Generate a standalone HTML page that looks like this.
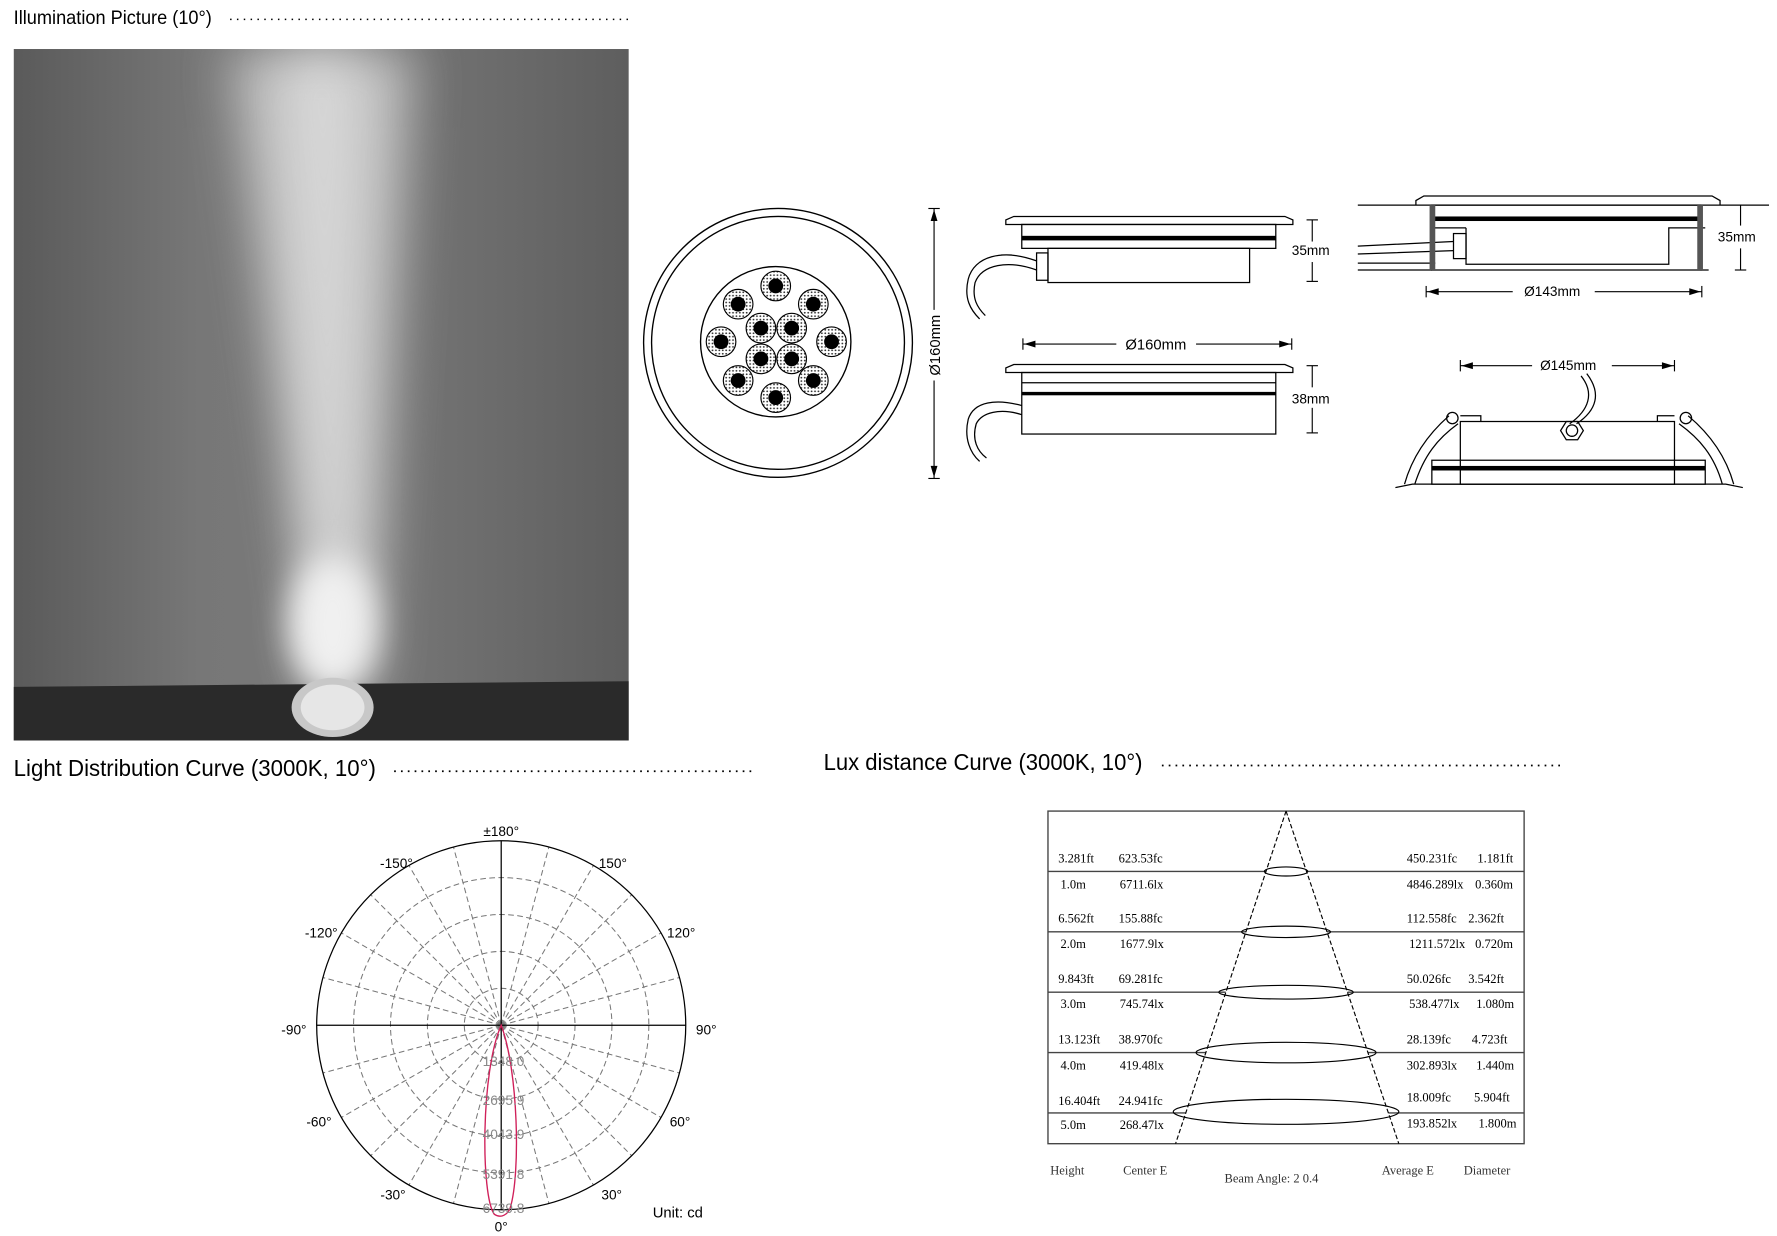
<!DOCTYPE html>
<html><head><meta charset="utf-8"><style>html,body{margin:0;padding:0;background:#fff}svg{display:block}</style></head>
<body>
<svg width="1777" height="1236" viewBox="0 0 1560 1085" xmlns="http://www.w3.org/2000/svg" font-family="Liberation Sans, sans-serif">
<defs>
<linearGradient id="bg" x1="0" y1="0" x2="1" y2="0">
<stop offset="0" stop-color="#5a5a5a"/><stop offset="0.3" stop-color="#777"/><stop offset="0.55" stop-color="#7a7a7a"/><stop offset="1" stop-color="#5e5e5e"/></linearGradient>
<filter id="bl" x="-1" y="-0.2" width="3" height="1.4"><feGaussianBlur stdDeviation="22"/></filter>
<filter id="bl2" x="-1" y="-1" width="3" height="3"><feGaussianBlur stdDeviation="14"/></filter>
<pattern id="dots" width="3" height="3" patternUnits="userSpaceOnUse"><circle cx="1.5" cy="1.5" r="0.8" fill="#333"/></pattern>
</defs>
<!-- titles -->
<text x="12" y="21" font-size="17" textLength="174" lengthAdjust="spacingAndGlyphs">Illumination Picture (10°)</text>
<line x1="202" y1="17" x2="552" y2="17" stroke="#000" stroke-width="1.3" stroke-dasharray="1.3 4.7"/>
<text x="12" y="681" font-size="20" textLength="318" lengthAdjust="spacingAndGlyphs">Light Distribution Curve (3000K, 10°)</text>
<line x1="346" y1="677" x2="663" y2="677" stroke="#000" stroke-width="1.5" stroke-dasharray="1.5 4.5"/>
<text x="723" y="676" font-size="20" textLength="280" lengthAdjust="spacingAndGlyphs">Lux distance Curve (3000K, 10°)</text>
<line x1="1020" y1="672" x2="1372" y2="672" stroke="#000" stroke-width="1.5" stroke-dasharray="1.5 4.5"/>
<!-- photo -->
<svg x="12" y="43" width="540" height="607">
<rect width="540" height="607" fill="url(#bg)"/>
<polygon points="190,0 350,0 315,560 265,560" fill="#cfcfcf" filter="url(#bl)" opacity="0.85"/>
<polygon points="240,0 300,0 292,540 268,540" fill="#e8e8e8" filter="url(#bl)" opacity="0.6"/>
<ellipse cx="280" cy="505" rx="38" ry="60" fill="#f0f0f0" filter="url(#bl2)"/>
<polygon points="0,560 540,555 540,607 0,607" fill="#2a2a2a"/>
<ellipse cx="280" cy="578" rx="36" ry="26" fill="#c8c8c8"/>
<ellipse cx="280" cy="578" rx="28" ry="20" fill="#e6e6e6"/>
</svg>
<!-- top view -->
<g fill="none" stroke="#000" stroke-width="1.2">
<circle cx="683" cy="301" r="118"/><circle cx="683" cy="301" r="111"/>
<circle cx="681" cy="300" r="66"/>
</g>
<g stroke="#000" stroke-width="1">
<g fill="url(#dots)"><circle cx="681" cy="251" r="13"/><circle cx="648" cy="267" r="13"/><circle cx="714" cy="267" r="13"/><circle cx="668" cy="288" r="13"/><circle cx="695" cy="288" r="13"/><circle cx="633" cy="300" r="13"/><circle cx="730" cy="300" r="13"/><circle cx="668" cy="315" r="13"/><circle cx="695" cy="315" r="13"/><circle cx="648" cy="334" r="13"/><circle cx="714" cy="334" r="13"/><circle cx="681" cy="349" r="13"/></g>
<g fill="#000"><circle cx="681" cy="251" r="6"/><circle cx="648" cy="267" r="6"/><circle cx="714" cy="267" r="6"/><circle cx="668" cy="288" r="6"/><circle cx="695" cy="288" r="6"/><circle cx="633" cy="300" r="6"/><circle cx="730" cy="300" r="6"/><circle cx="668" cy="315" r="6"/><circle cx="695" cy="315" r="6"/><circle cx="648" cy="334" r="6"/><circle cx="714" cy="334" r="6"/><circle cx="681" cy="349" r="6"/></g>
</g>
<!-- 160 vertical dim -->
<g stroke="#000" stroke-width="1" fill="none">
<line x1="820" y1="183" x2="820" y2="272"/><line x1="820" y1="334" x2="820" y2="420"/>
<line x1="815" y1="183" x2="825" y2="183"/><line x1="815" y1="420" x2="825" y2="420"/>
</g>
<polygon points="820,184 817,194 823,194" fill="#000"/><polygon points="820,419 817,409 823,409" fill="#000"/>
<text transform="translate(825,303) rotate(-90)" font-size="13" text-anchor="middle">Ø160mm</text>
<!-- side view 1 -->
<g fill="none" stroke="#000" stroke-width="1.1">
<path d="M883,197 L883,193 L890,190 L1128,190 L1135,193 L1135,197 Z"/>
<rect x="897" y="197" width="223" height="21"/>
<rect x="920" y="218" width="177" height="30"/>
<rect x="910" y="222" width="10" height="24"/>
<path d="M910,229 C880,218 855,225 850,245 C846,262 852,272 860,280"/>
<path d="M910,237 C885,228 862,232 856,248 C853,262 858,270 865,277"/>
</g>
<rect x="897" y="207" width="223" height="4" fill="#000"/>
<g stroke="#000" stroke-width="1"><line x1="1152" y1="193" x2="1152" y2="212"/><line x1="1152" y1="230" x2="1152" y2="247"/><line x1="1147" y1="193" x2="1157" y2="193"/><line x1="1147" y1="247" x2="1157" y2="247"/></g>
<text x="1134" y="224" font-size="12">35mm</text>
<!-- 160 horiz -->
<g stroke="#000" stroke-width="1"><line x1="898" y1="302" x2="980" y2="302"/><line x1="1050" y1="302" x2="1134" y2="302"/><line x1="898" y1="297" x2="898" y2="307"/><line x1="1134" y1="297" x2="1134" y2="307"/></g>
<polygon points="899,302 909,299 909,305" fill="#000"/><polygon points="1133,302 1123,299 1123,305" fill="#000"/>
<text x="988" y="307" font-size="13">Ø160mm</text>
<!-- side view 2 -->
<g fill="none" stroke="#000" stroke-width="1.1">
<path d="M883,327 L883,323 L890,320 L1128,320 L1135,323 L1135,327 Z"/>
<rect x="897" y="327" width="223" height="54"/>
<line x1="897" y1="336" x2="1120" y2="336"/>
<path d="M897,356 C875,350 855,352 850,368 C846,385 852,398 860,405"/>
<path d="M897,364 C878,358 862,362 857,372 C853,386 858,396 866,402"/>
</g>
<rect x="897" y="344" width="223" height="3" fill="#000"/>
<g stroke="#000" stroke-width="1"><line x1="1152" y1="321" x2="1152" y2="340"/><line x1="1152" y1="358" x2="1152" y2="380"/><line x1="1147" y1="321" x2="1157" y2="321"/><line x1="1147" y1="380" x2="1157" y2="380"/></g>
<text x="1134" y="354" font-size="12">38mm</text>
<!-- right top installed -->
<g fill="none" stroke="#000" stroke-width="1.1">
<line x1="1192" y1="180" x2="1553" y2="180"/><line x1="1192" y1="237" x2="1257" y2="237"/><line x1="1493" y1="237" x2="1500" y2="237"/>
<line x1="1192" y1="231" x2="1260" y2="231"/>
<path d="M1243,180 L1243,176 L1250,172 L1503,172 L1510,176 L1510,180"/>
<rect x="1257" y="180" width="236" height="57"/>
<path d="M1287,222 L1287,232 L1465,232 L1465,200 L1497,200"/>
<line x1="1257" y1="200" x2="1287" y2="200"/><line x1="1287" y1="200" x2="1287" y2="222"/>
<rect x="1276" y="205" width="11" height="22"/>
<path d="M1192,216 L1276,212 M1192,223 L1276,220"/>
</g>
<rect x="1257" y="190" width="236" height="4" fill="#000"/>
<rect x="1255" y="180" width="5" height="57" fill="#555"/><rect x="1490" y="180" width="5" height="57" fill="#555"/>
<g stroke="#000" stroke-width="1"><line x1="1528" y1="180" x2="1528" y2="198"/><line x1="1528" y1="218" x2="1528" y2="237"/><line x1="1523" y1="237" x2="1533" y2="237"/></g>
<text x="1508" y="212" font-size="12">35mm</text>
<g stroke="#000" stroke-width="1"><line x1="1252" y1="256" x2="1328" y2="256"/><line x1="1400" y1="256" x2="1494" y2="256"/><line x1="1252" y1="251" x2="1252" y2="261"/><line x1="1494" y1="251" x2="1494" y2="261"/></g>
<polygon points="1253,256 1263,253 1263,259" fill="#000"/><polygon points="1493,256 1483,253 1483,259" fill="#000"/>
<text x="1338" y="260" font-size="12">Ø143mm</text>
<!-- bottom right clips -->
<g stroke="#000" stroke-width="1"><line x1="1282" y1="321" x2="1345" y2="321"/><line x1="1415" y1="321" x2="1470" y2="321"/><line x1="1282" y1="316" x2="1282" y2="326"/><line x1="1470" y1="316" x2="1470" y2="326"/></g>
<polygon points="1283,321 1293,318 1293,324" fill="#000"/><polygon points="1469,321 1459,318 1459,324" fill="#000"/>
<text x="1352" y="325" font-size="12">Ø145mm</text>
<g fill="none" stroke="#000" stroke-width="1.1">
<rect x="1282" y="370" width="188" height="55"/>
<rect x="1257" y="404" width="240" height="21"/>
<path d="M1225,428 L1240,425 L1515,425 L1530,428"/>
<path d="M1233,425 C1240,400 1255,380 1272,365 M1242,425 C1250,400 1262,385 1280,372"/>
<path d="M1522,425 C1515,400 1500,380 1482,365 M1512,425 C1505,400 1492,385 1474,372"/>
<circle cx="1275" cy="367" r="5"/><circle cx="1480" cy="367" r="5"/>
<path d="M1282,365 L1300,365 L1300,370 M1455,370 L1455,365 L1470,365"/>
<polygon points="1370,378 1375,370 1385,370 1390,378 1385,386 1375,386"/>
<circle cx="1380" cy="378" r="5"/>
<path d="M1378,372 C1395,360 1400,345 1388,330 M1384,372 C1402,360 1406,345 1393,328"/>
</g>
<rect x="1257" y="409" width="240" height="4" fill="#000"/>
<!-- polar -->
<g transform="translate(440,900)" fill="none">
<g stroke="#777" stroke-width="0.9" stroke-dasharray="5 3">
<circle r="32.4"/><circle r="64.8"/><circle r="97.2"/><circle r="129.6"/>
<line x1="0" y1="0" x2="41.9" y2="156.5"/><line x1="0" y1="0" x2="81" y2="140.3"/><line x1="0" y1="0" x2="114.6" y2="114.6"/><line x1="0" y1="0" x2="140.3" y2="81"/><line x1="0" y1="0" x2="156.5" y2="41.9"/>
<line x1="0" y1="0" x2="-41.9" y2="156.5"/><line x1="0" y1="0" x2="-81" y2="140.3"/><line x1="0" y1="0" x2="-114.6" y2="114.6"/><line x1="0" y1="0" x2="-140.3" y2="81"/><line x1="0" y1="0" x2="-156.5" y2="41.9"/>
<line x1="0" y1="0" x2="41.9" y2="-156.5"/><line x1="0" y1="0" x2="81" y2="-140.3"/><line x1="0" y1="0" x2="114.6" y2="-114.6"/><line x1="0" y1="0" x2="140.3" y2="-81"/><line x1="0" y1="0" x2="156.5" y2="-41.9"/>
<line x1="0" y1="0" x2="-41.9" y2="-156.5"/><line x1="0" y1="0" x2="-81" y2="-140.3"/><line x1="0" y1="0" x2="-114.6" y2="-114.6"/><line x1="0" y1="0" x2="-140.3" y2="-81"/><line x1="0" y1="0" x2="-156.5" y2="-41.9"/>
</g>
<circle r="162" stroke="#000" stroke-width="1.1"/>
<line x1="-162" y1="0" x2="162" y2="0" stroke="#000" stroke-width="1.1"/>
<line x1="0" y1="-162" x2="0" y2="162" stroke="#000" stroke-width="1.1"/>
<path d="M0,0 C-18,40 -18,150 -6,166 C0,170 6,166 8,160 C17,130 15,40 0,0 Z" stroke="#d0205a" stroke-width="1.2"/>
<g fill="#888" font-size="12" text-anchor="middle">
<text x="2" y="36">1348.0</text><text x="2" y="70">2695.9</text><text x="2" y="100">4043.9</text><text x="2" y="135">5391.8</text><text x="2" y="165">6739.8</text>
</g>
<g fill="#000" font-size="12" text-anchor="middle">
<text x="0" y="-166">±180°</text><text x="-92" y="-138">-150°</text><text x="98" y="-138">150°</text>
<text x="-158" y="-77">-120°</text><text x="158" y="-77">120°</text>
<text x="-182" y="8">-90°</text><text x="180" y="8">90°</text>
<text x="-160" y="89">-60°</text><text x="157" y="89">60°</text>
<text x="-95" y="153">-30°</text><text x="97" y="153">30°</text>
<text x="0" y="181">0°</text>
</g>
<text x="133" y="169" font-size="13" fill="#000">Unit: cd</text>
</g>
<!-- lux table -->
<g fill="none" stroke="#444" stroke-width="1.2">
<rect x="920" y="712" width="418" height="292"/>
<line x1="920" y1="765" x2="1111" y2="765"/><line x1="1147" y1="765" x2="1338" y2="765"/>
<line x1="920" y1="818" x2="1094" y2="818"/><line x1="1165" y1="818" x2="1338" y2="818"/>
<line x1="920" y1="871" x2="1076" y2="871"/><line x1="1183" y1="871" x2="1338" y2="871"/>
<line x1="920" y1="924" x2="1059" y2="924"/><line x1="1201" y1="924" x2="1338" y2="924"/>
<line x1="920" y1="977" x2="1041" y2="977"/><line x1="1219" y1="977" x2="1338" y2="977"/>
</g>
<g fill="none" stroke="#000" stroke-width="1">
<line x1="1129" y1="712" x2="1032" y2="1004" stroke-dasharray="4 2"/><line x1="1129" y1="712" x2="1228" y2="1004" stroke-dasharray="4 2"/>
<ellipse cx="1129" cy="765" rx="19" ry="4"/><ellipse cx="1129" cy="818" rx="39" ry="5"/><ellipse cx="1129" cy="871" rx="59" ry="6"/><ellipse cx="1129" cy="924" rx="79" ry="9"/><ellipse cx="1129" cy="976" rx="99" ry="11"/>
</g>
<g font-family="Liberation Serif, serif" font-size="11" fill="#000">
<text x="929" y="757">3.281ft</text><text x="982" y="757">623.53fc</text><text x="1235" y="757">450.231fc</text><text x="1297" y="757">1.181ft</text>
<text x="931" y="780">1.0m</text><text x="983" y="780">6711.6lx</text><text x="1235" y="780">4846.289lx</text><text x="1295" y="780">0.360m</text>
<text x="929" y="810">6.562ft</text><text x="982" y="810">155.88fc</text><text x="1235" y="810">112.558fc</text><text x="1289" y="810">2.362ft</text>
<text x="931" y="832">2.0m</text><text x="983" y="832">1677.9lx</text><text x="1237" y="832">1211.572lx</text><text x="1295" y="832">0.720m</text>
<text x="929" y="863">9.843ft</text><text x="982" y="863">69.281fc</text><text x="1235" y="863">50.026fc</text><text x="1289" y="863">3.542ft</text>
<text x="931" y="885">3.0m</text><text x="983" y="885">745.74lx</text><text x="1237" y="885">538.477lx</text><text x="1296" y="885">1.080m</text>
<text x="929" y="916">13.123ft</text><text x="982" y="916">38.970fc</text><text x="1235" y="916">28.139fc</text><text x="1292" y="916">4.723ft</text>
<text x="931" y="939">4.0m</text><text x="983" y="939">419.48lx</text><text x="1235" y="939">302.893lx</text><text x="1296" y="939">1.440m</text>
<text x="929" y="970">16.404ft</text><text x="982" y="970">24.941fc</text><text x="1235" y="967">18.009fc</text><text x="1294" y="967">5.904ft</text>
<text x="931" y="991">5.0m</text><text x="983" y="991">268.47lx</text><text x="1235" y="990">193.852lx</text><text x="1298" y="990">1.800m</text>
<text x="922" y="1031" fill="#333">Height</text><text x="986" y="1031" fill="#333">Center E</text>
<text x="1075" y="1038" fill="#333">Beam Angle: 2 0.4</text>
<text x="1213" y="1031" fill="#333">Average E</text><text x="1285" y="1031" fill="#333">Diameter</text>
</g>
</svg>
</body></html>
